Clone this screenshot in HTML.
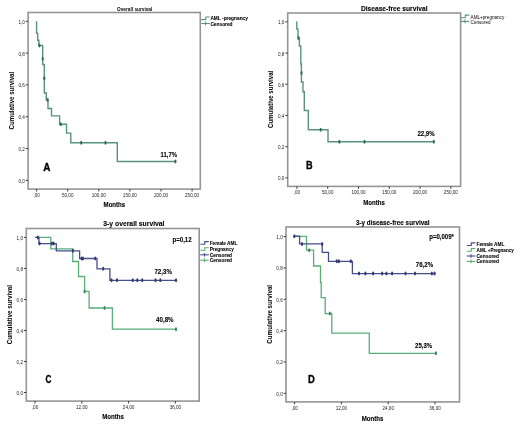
<!DOCTYPE html>
<html><head><meta charset="utf-8"><style>
html,body{margin:0;padding:0;background:#fff;}
body{width:520px;height:426px;overflow:hidden;}
svg{display:block;font-family:"Liberation Sans", sans-serif;will-change:transform;}
</style></head><body>
<svg width="520" height="426" viewBox="0 0 520 426">
<rect width="520" height="426" fill="#fff"/>
<g>
<rect x="28.1" y="12.5" width="172.2" height="176.6" fill="none" stroke="#959595" stroke-width="1.6"/>
<line x1="25.7" y1="21.3" x2="28.1" y2="21.3" stroke="#3a3a3a" stroke-width="1.0"/>
<text x="24.8" y="23.8" font-size="4.60" text-anchor="end" fill="#222" textLength="6.39" lengthAdjust="spacingAndGlyphs" >1,0</text>
<line x1="25.7" y1="53.12" x2="28.1" y2="53.12" stroke="#3a3a3a" stroke-width="1.0"/>
<text x="24.8" y="55.62" font-size="4.60" text-anchor="end" fill="#222" textLength="6.39" lengthAdjust="spacingAndGlyphs" >0,8</text>
<line x1="25.7" y1="84.94" x2="28.1" y2="84.94" stroke="#3a3a3a" stroke-width="1.0"/>
<text x="24.8" y="87.44" font-size="4.60" text-anchor="end" fill="#222" textLength="6.39" lengthAdjust="spacingAndGlyphs" >0,6</text>
<line x1="25.7" y1="116.76" x2="28.1" y2="116.76" stroke="#3a3a3a" stroke-width="1.0"/>
<text x="24.8" y="119.26" font-size="4.60" text-anchor="end" fill="#222" textLength="6.39" lengthAdjust="spacingAndGlyphs" >0,4</text>
<line x1="25.7" y1="148.58" x2="28.1" y2="148.58" stroke="#3a3a3a" stroke-width="1.0"/>
<text x="24.8" y="151.08" font-size="4.60" text-anchor="end" fill="#222" textLength="6.39" lengthAdjust="spacingAndGlyphs" >0,2</text>
<line x1="25.7" y1="180.4" x2="28.1" y2="180.4" stroke="#3a3a3a" stroke-width="1.0"/>
<text x="24.8" y="182.9" font-size="4.60" text-anchor="end" fill="#222" textLength="6.39" lengthAdjust="spacingAndGlyphs" >0,0</text>
<line x1="36.6" y1="189.1" x2="36.6" y2="191.5" stroke="#3a3a3a" stroke-width="1.0"/>
<text x="36.6" y="196.7" font-size="4.60" text-anchor="middle" fill="#222" textLength="6.39" lengthAdjust="spacingAndGlyphs" >,00</text>
<line x1="67.7" y1="189.1" x2="67.7" y2="191.5" stroke="#3a3a3a" stroke-width="1.0"/>
<text x="67.7" y="196.7" font-size="4.60" text-anchor="middle" fill="#222" textLength="11.51" lengthAdjust="spacingAndGlyphs" >50,00</text>
<line x1="98.8" y1="189.1" x2="98.8" y2="191.5" stroke="#3a3a3a" stroke-width="1.0"/>
<text x="98.8" y="196.7" font-size="4.60" text-anchor="middle" fill="#222" textLength="14.07" lengthAdjust="spacingAndGlyphs" >100,00</text>
<line x1="129.9" y1="189.1" x2="129.9" y2="191.5" stroke="#3a3a3a" stroke-width="1.0"/>
<text x="129.9" y="196.7" font-size="4.60" text-anchor="middle" fill="#222" textLength="14.07" lengthAdjust="spacingAndGlyphs" >150,00</text>
<line x1="161.0" y1="189.1" x2="161.0" y2="191.5" stroke="#3a3a3a" stroke-width="1.0"/>
<text x="161.0" y="196.7" font-size="4.60" text-anchor="middle" fill="#222" textLength="14.07" lengthAdjust="spacingAndGlyphs" >200,00</text>
<line x1="192.1" y1="189.1" x2="192.1" y2="191.5" stroke="#3a3a3a" stroke-width="1.0"/>
<text x="192.1" y="196.7" font-size="4.60" text-anchor="middle" fill="#222" textLength="14.07" lengthAdjust="spacingAndGlyphs" >250,00</text>
<text x="117.0" y="10.6" font-size="5.18" font-weight="bold" text-anchor="start" fill="#000" textLength="35.30" lengthAdjust="spacingAndGlyphs" >Overall survival</text>
<text x="114.4" y="207.2" font-size="6.59" font-weight="bold" stroke="#000" stroke-width="0.1" text-anchor="middle" fill="#000" textLength="21.68" lengthAdjust="spacingAndGlyphs" >Months</text>
<text transform="translate(13.7,100.6) rotate(-90)" font-size="6.8" font-weight="bold" text-anchor="middle" textLength="57.6" lengthAdjust="spacingAndGlyphs">Cumulative survival</text>
<text x="43.3" y="170.6" font-size="11.34" font-weight="bold" stroke="#000" stroke-width="0.35" text-anchor="start" fill="#000" textLength="7.20" lengthAdjust="spacingAndGlyphs" >A</text>
<text x="160.6" y="156.6" font-size="6.59" font-weight="bold" stroke="#000" stroke-width="0.1" text-anchor="start" fill="#000" textLength="16.40" lengthAdjust="spacingAndGlyphs" >11,7%</text>
<polyline points="36.6,21.3 36.6,33.3 37.7,33.3 37.7,40.3 38.9,40.3 38.9,45.5 42.7,45.5 42.7,64.5 44.3,64.5 44.3,93 46.3,93 46.3,100 48,100 48,108.5 51.5,108.5 51.5,115.9 59.6,115.9 59.6,124.2 66.5,124.2 66.5,133.1 70.8,133.1 70.8,142.7 117.3,142.7 117.3,161.5 175.4,161.5" fill="none" stroke="#58937f" stroke-width="1.4" stroke-linejoin="miter"/>
<ellipse cx="39.4" cy="45.5" rx="1.1" ry="2.0" fill="#2f6e58"/>
<ellipse cx="42.7" cy="58.7" rx="1.1" ry="2.0" fill="#2f6e58"/>
<ellipse cx="44.3" cy="78.3" rx="1.1" ry="2.0" fill="#2f6e58"/>
<ellipse cx="47.6" cy="100" rx="1.1" ry="2.0" fill="#2f6e58"/>
<ellipse cx="60.8" cy="124.2" rx="1.1" ry="2.0" fill="#2f6e58"/>
<ellipse cx="81.2" cy="142.7" rx="1.1" ry="2.0" fill="#2f6e58"/>
<ellipse cx="105.5" cy="142.7" rx="1.1" ry="2.0" fill="#2f6e58"/>
<ellipse cx="175.4" cy="161.5" rx="1.1" ry="2.0" fill="#2f6e58"/>
<polyline points="201.3,19.6 205.8,19.6 205.8,17.0 209.8,17.0" fill="none" stroke="#58937f" stroke-width="1.1"/>
<line x1="201.3" y1="23.5" x2="209.8" y2="23.5" stroke="#58937f" stroke-width="1.1"/>
<line x1="205.5" y1="21.7" x2="205.5" y2="25.3" stroke="#58937f" stroke-width="1.1"/>
<text x="210.4" y="20.3" font-size="5.18" font-weight="bold" stroke="#000" stroke-width="0.08" text-anchor="start" fill="#000" textLength="37.52" lengthAdjust="spacingAndGlyphs" >AML -pregnancy</text>
<text x="210.4" y="25.8" font-size="5.18" font-weight="bold" stroke="#000" stroke-width="0.08" text-anchor="start" fill="#000" textLength="22.14" lengthAdjust="spacingAndGlyphs" >Censored</text>
<rect x="287.7" y="13.0" width="172.9" height="173.4" fill="none" stroke="#959595" stroke-width="1.6"/>
<line x1="285.3" y1="21.8" x2="287.7" y2="21.8" stroke="#3a3a3a" stroke-width="1.0"/>
<text x="284.4" y="24.3" font-size="4.60" text-anchor="end" fill="#222" textLength="6.39" lengthAdjust="spacingAndGlyphs" >1,0</text>
<line x1="285.3" y1="53.02" x2="287.7" y2="53.02" stroke="#3a3a3a" stroke-width="1.0"/>
<text x="284.4" y="55.52" font-size="4.60" text-anchor="end" fill="#222" textLength="6.39" lengthAdjust="spacingAndGlyphs" >0,8</text>
<line x1="285.3" y1="84.24" x2="287.7" y2="84.24" stroke="#3a3a3a" stroke-width="1.0"/>
<text x="284.4" y="86.74" font-size="4.60" text-anchor="end" fill="#222" textLength="6.39" lengthAdjust="spacingAndGlyphs" >0,6</text>
<line x1="285.3" y1="115.46" x2="287.7" y2="115.46" stroke="#3a3a3a" stroke-width="1.0"/>
<text x="284.4" y="117.96" font-size="4.60" text-anchor="end" fill="#222" textLength="6.39" lengthAdjust="spacingAndGlyphs" >0,4</text>
<line x1="285.3" y1="146.68" x2="287.7" y2="146.68" stroke="#3a3a3a" stroke-width="1.0"/>
<text x="284.4" y="149.18" font-size="4.60" text-anchor="end" fill="#222" textLength="6.39" lengthAdjust="spacingAndGlyphs" >0,2</text>
<line x1="285.3" y1="177.9" x2="287.7" y2="177.9" stroke="#3a3a3a" stroke-width="1.0"/>
<text x="284.4" y="180.4" font-size="4.60" text-anchor="end" fill="#222" textLength="6.39" lengthAdjust="spacingAndGlyphs" >0,0</text>
<line x1="296.9" y1="186.4" x2="296.9" y2="188.8" stroke="#3a3a3a" stroke-width="1.0"/>
<text x="296.9" y="194.0" font-size="4.60" text-anchor="middle" fill="#222" textLength="6.39" lengthAdjust="spacingAndGlyphs" >,00</text>
<line x1="327.7" y1="186.4" x2="327.7" y2="188.8" stroke="#3a3a3a" stroke-width="1.0"/>
<text x="327.7" y="194.0" font-size="4.60" text-anchor="middle" fill="#222" textLength="11.51" lengthAdjust="spacingAndGlyphs" >50,00</text>
<line x1="358.5" y1="186.4" x2="358.5" y2="188.8" stroke="#3a3a3a" stroke-width="1.0"/>
<text x="358.5" y="194.0" font-size="4.60" text-anchor="middle" fill="#222" textLength="14.07" lengthAdjust="spacingAndGlyphs" >100,00</text>
<line x1="389.3" y1="186.4" x2="389.3" y2="188.8" stroke="#3a3a3a" stroke-width="1.0"/>
<text x="389.3" y="194.0" font-size="4.60" text-anchor="middle" fill="#222" textLength="14.07" lengthAdjust="spacingAndGlyphs" >150,00</text>
<line x1="420.1" y1="186.4" x2="420.1" y2="188.8" stroke="#3a3a3a" stroke-width="1.0"/>
<text x="420.1" y="194.0" font-size="4.60" text-anchor="middle" fill="#222" textLength="14.07" lengthAdjust="spacingAndGlyphs" >200,00</text>
<line x1="450.9" y1="186.4" x2="450.9" y2="188.8" stroke="#3a3a3a" stroke-width="1.0"/>
<text x="450.9" y="194.0" font-size="4.60" text-anchor="middle" fill="#222" textLength="14.07" lengthAdjust="spacingAndGlyphs" >250,00</text>
<text x="360.9" y="11.1" font-size="7.24" font-weight="bold" stroke="#000" stroke-width="0.1" text-anchor="start" fill="#000" textLength="66.60" lengthAdjust="spacingAndGlyphs" >Disease-free survival</text>
<text x="374" y="205.0" font-size="6.59" font-weight="bold" stroke="#000" stroke-width="0.1" text-anchor="middle" fill="#000" textLength="21.68" lengthAdjust="spacingAndGlyphs" >Months</text>
<text transform="translate(273.1,99.4) rotate(-90)" font-size="6.6" font-weight="bold" text-anchor="middle" textLength="57.2" lengthAdjust="spacingAndGlyphs">Cumulative survival</text>
<text x="306.0" y="169.0" font-size="11.34" font-weight="bold" stroke="#000" stroke-width="0.35" text-anchor="start" fill="#000" textLength="6.60" lengthAdjust="spacingAndGlyphs" >B</text>
<text x="417.4" y="135.9" font-size="6.80" font-weight="bold" stroke="#000" stroke-width="0.1" text-anchor="start" fill="#000" textLength="17.20" lengthAdjust="spacingAndGlyphs" >22,9%</text>
<polyline points="296.8,21.6 296.8,29.1 298,29.1 298,38 299.4,38 299.4,46 300.8,46 300.8,64 301.4,64 301.4,82 303.0,82 303.0,91.8 304.3,91.8 304.3,110.5 308.3,110.5 308.3,129.8 328,129.8 328,141.8 433.8,141.8" fill="none" stroke="#58937f" stroke-width="1.4" stroke-linejoin="miter"/>
<ellipse cx="298.5" cy="38" rx="1.1" ry="2.0" fill="#2f6e58"/>
<ellipse cx="301.5" cy="72.9" rx="1.1" ry="2.0" fill="#2f6e58"/>
<ellipse cx="320.7" cy="129.8" rx="1.1" ry="2.0" fill="#2f6e58"/>
<ellipse cx="339.4" cy="141.8" rx="1.1" ry="2.0" fill="#2f6e58"/>
<ellipse cx="364.5" cy="141.8" rx="1.1" ry="2.0" fill="#2f6e58"/>
<ellipse cx="433.8" cy="141.8" rx="1.1" ry="2.0" fill="#2f6e58"/>
<polyline points="460.8,17.7 465.3,17.7 465.3,15.1 469.3,15.1" fill="none" stroke="#58937f" stroke-width="1.1"/>
<line x1="460.8" y1="21.4" x2="469.3" y2="21.4" stroke="#58937f" stroke-width="1.1"/>
<line x1="465.0" y1="19.6" x2="465.0" y2="23.2" stroke="#58937f" stroke-width="1.1"/>
<text x="470.6" y="18.7" font-size="5.06" text-anchor="start" fill="#000" textLength="33.63" lengthAdjust="spacingAndGlyphs" >AML+pregnancy</text>
<text x="470.6" y="23.8" font-size="5.06" text-anchor="start" fill="#000" textLength="19.95" lengthAdjust="spacingAndGlyphs" >Censored</text>
<rect x="26.3" y="228.5" width="172.9" height="172.6" fill="none" stroke="#959595" stroke-width="1.6"/>
<line x1="23.9" y1="237.4" x2="26.3" y2="237.4" stroke="#3a3a3a" stroke-width="1.0"/>
<text x="23.0" y="239.9" font-size="4.60" text-anchor="end" fill="#222" textLength="6.39" lengthAdjust="spacingAndGlyphs" >1,0</text>
<line x1="23.9" y1="268.42" x2="26.3" y2="268.42" stroke="#3a3a3a" stroke-width="1.0"/>
<text x="23.0" y="270.92" font-size="4.60" text-anchor="end" fill="#222" textLength="6.39" lengthAdjust="spacingAndGlyphs" >0,8</text>
<line x1="23.9" y1="299.44" x2="26.3" y2="299.44" stroke="#3a3a3a" stroke-width="1.0"/>
<text x="23.0" y="301.94" font-size="4.60" text-anchor="end" fill="#222" textLength="6.39" lengthAdjust="spacingAndGlyphs" >0,6</text>
<line x1="23.9" y1="330.46" x2="26.3" y2="330.46" stroke="#3a3a3a" stroke-width="1.0"/>
<text x="23.0" y="332.96" font-size="4.60" text-anchor="end" fill="#222" textLength="6.39" lengthAdjust="spacingAndGlyphs" >0,4</text>
<line x1="23.9" y1="361.48" x2="26.3" y2="361.48" stroke="#3a3a3a" stroke-width="1.0"/>
<text x="23.0" y="363.98" font-size="4.60" text-anchor="end" fill="#222" textLength="6.39" lengthAdjust="spacingAndGlyphs" >0,2</text>
<line x1="23.9" y1="392.5" x2="26.3" y2="392.5" stroke="#3a3a3a" stroke-width="1.0"/>
<text x="23.0" y="395.0" font-size="4.60" text-anchor="end" fill="#222" textLength="6.39" lengthAdjust="spacingAndGlyphs" >0,0</text>
<line x1="35.0" y1="401.1" x2="35.0" y2="403.5" stroke="#3a3a3a" stroke-width="1.0"/>
<text x="35.0" y="408.7" font-size="4.60" text-anchor="middle" fill="#222" textLength="6.39" lengthAdjust="spacingAndGlyphs" >,00</text>
<line x1="81.8" y1="401.1" x2="81.8" y2="403.5" stroke="#3a3a3a" stroke-width="1.0"/>
<text x="81.8" y="408.7" font-size="4.60" text-anchor="middle" fill="#222" textLength="11.51" lengthAdjust="spacingAndGlyphs" >12,00</text>
<line x1="128.6" y1="401.1" x2="128.6" y2="403.5" stroke="#3a3a3a" stroke-width="1.0"/>
<text x="128.6" y="408.7" font-size="4.60" text-anchor="middle" fill="#222" textLength="11.51" lengthAdjust="spacingAndGlyphs" >24,00</text>
<line x1="175.4" y1="401.1" x2="175.4" y2="403.5" stroke="#3a3a3a" stroke-width="1.0"/>
<text x="175.4" y="408.7" font-size="4.60" text-anchor="middle" fill="#222" textLength="11.51" lengthAdjust="spacingAndGlyphs" >36,00</text>
<text x="103.3" y="225.5" font-size="7.24" font-weight="bold" stroke="#000" stroke-width="0.1" text-anchor="start" fill="#000" textLength="61.20" lengthAdjust="spacingAndGlyphs" >3-y overall survival</text>
<text x="113" y="419" font-size="6.59" font-weight="bold" stroke="#000" stroke-width="0.1" text-anchor="middle" fill="#000" textLength="21.68" lengthAdjust="spacingAndGlyphs" >Months</text>
<text transform="translate(12.1,314.7) rotate(-90)" font-size="6.6" font-weight="bold" text-anchor="middle" textLength="59.3" lengthAdjust="spacingAndGlyphs">Cumulative survival</text>
<text x="45.4" y="383.2" font-size="11.34" font-weight="bold" stroke="#000" stroke-width="0.35" text-anchor="start" fill="#000" textLength="5.90" lengthAdjust="spacingAndGlyphs" >C</text>
<text x="172.6" y="241.6" font-size="6.48" font-weight="bold" stroke="#000" stroke-width="0.1" text-anchor="start" fill="#000" textLength="19.00" lengthAdjust="spacingAndGlyphs" >p=0,12</text>
<text x="154.4" y="273.8" font-size="6.80" font-weight="bold" stroke="#000" stroke-width="0.1" text-anchor="start" fill="#000" textLength="17.60" lengthAdjust="spacingAndGlyphs" >72,3%</text>
<text x="156.1" y="322.2" font-size="6.80" font-weight="bold" stroke="#000" stroke-width="0.1" text-anchor="start" fill="#000" textLength="17.50" lengthAdjust="spacingAndGlyphs" >40,8%</text>
<polyline points="35.2,237.4 50.8,237.4 50.8,248.9 72.7,248.9 72.7,261.5 78.5,261.5 78.5,276.5 84.6,276.5 84.6,291.4 89.1,291.4 89.1,308 112.4,308 112.4,329.2 176,329.2" fill="none" stroke="#5aae78" stroke-width="1.3" stroke-linejoin="miter"/>
<polyline points="35.2,237.4 39,237.4 39,243.6 56.3,243.6 56.3,250.8 79.6,250.8 79.6,258.5 97,258.5 97,268.8 109.9,268.8 109.9,280.3 176,280.3" fill="none" stroke="#464f8e" stroke-width="1.3" stroke-linejoin="miter"/>
<ellipse cx="84.6" cy="291.4" rx="1.1" ry="2.0" fill="#3d8a5c"/>
<ellipse cx="104.6" cy="308" rx="1.1" ry="2.0" fill="#3d8a5c"/>
<ellipse cx="176" cy="329.2" rx="1.1" ry="2.0" fill="#3d8a5c"/>
<ellipse cx="37.8" cy="237.4" rx="1.1" ry="2.0" fill="#333a70"/>
<ellipse cx="39.5" cy="243.6" rx="1.1" ry="2.0" fill="#333a70"/>
<ellipse cx="51.9" cy="243.6" rx="1.1" ry="2.0" fill="#333a70"/>
<ellipse cx="53.6" cy="243.6" rx="1.1" ry="2.0" fill="#333a70"/>
<ellipse cx="72.9" cy="250.8" rx="1.1" ry="2.0" fill="#333a70"/>
<ellipse cx="81.7" cy="258.5" rx="1.1" ry="2.0" fill="#333a70"/>
<ellipse cx="82.9" cy="258.5" rx="1.1" ry="2.0" fill="#333a70"/>
<ellipse cx="95.2" cy="258.5" rx="1.1" ry="2.0" fill="#333a70"/>
<ellipse cx="103.2" cy="268.8" rx="1.1" ry="2.0" fill="#333a70"/>
<ellipse cx="111.5" cy="280.3" rx="1.1" ry="2.0" fill="#333a70"/>
<ellipse cx="117" cy="280.3" rx="1.1" ry="2.0" fill="#333a70"/>
<ellipse cx="132.8" cy="280.3" rx="1.1" ry="2.0" fill="#333a70"/>
<ellipse cx="137.3" cy="280.3" rx="1.1" ry="2.0" fill="#333a70"/>
<ellipse cx="142.2" cy="280.3" rx="1.1" ry="2.0" fill="#333a70"/>
<ellipse cx="155.5" cy="280.3" rx="1.1" ry="2.0" fill="#333a70"/>
<ellipse cx="160.3" cy="280.3" rx="1.1" ry="2.0" fill="#333a70"/>
<ellipse cx="176" cy="280.3" rx="1.1" ry="2.0" fill="#333a70"/>
<polyline points="200.3,244.2 204.8,244.2 204.8,241.6 208.8,241.6" fill="none" stroke="#464f8e" stroke-width="1.1"/>
<polyline points="200.3,250.3 204.8,250.3 204.8,247.7 208.8,247.7" fill="none" stroke="#5aae78" stroke-width="1.1"/>
<line x1="200.3" y1="254.8" x2="208.8" y2="254.8" stroke="#464f8e" stroke-width="1.1"/>
<line x1="204.5" y1="253.0" x2="204.5" y2="256.6" stroke="#464f8e" stroke-width="1.1"/>
<line x1="200.3" y1="260.2" x2="208.8" y2="260.2" stroke="#5aae78" stroke-width="1.1"/>
<line x1="204.5" y1="258.4" x2="204.5" y2="262.0" stroke="#5aae78" stroke-width="1.1"/>
<text x="209.7" y="244.6" font-size="5.08" font-weight="bold" stroke="#000" stroke-width="0.08" text-anchor="start" fill="#000" textLength="27.60" lengthAdjust="spacingAndGlyphs" >Female AML</text>
<text x="209.7" y="250.7" font-size="5.08" font-weight="bold" stroke="#000" stroke-width="0.08" text-anchor="start" fill="#000" textLength="24.10" lengthAdjust="spacingAndGlyphs" >Pregnancy</text>
<text x="209.7" y="256.6" font-size="5.08" font-weight="bold" stroke="#000" stroke-width="0.08" text-anchor="start" fill="#000" textLength="22.40" lengthAdjust="spacingAndGlyphs" >Censored</text>
<text x="209.7" y="262.2" font-size="5.08" font-weight="bold" stroke="#000" stroke-width="0.08" text-anchor="start" fill="#000" textLength="22.40" lengthAdjust="spacingAndGlyphs" >Censored</text>
<rect x="286.0" y="227.0" width="173.5" height="174.9" fill="none" stroke="#959595" stroke-width="1.6"/>
<line x1="283.6" y1="236.6" x2="286.0" y2="236.6" stroke="#3a3a3a" stroke-width="1.0"/>
<text x="282.7" y="239.1" font-size="4.60" text-anchor="end" fill="#222" textLength="6.39" lengthAdjust="spacingAndGlyphs" >1,0</text>
<line x1="283.6" y1="267.94" x2="286.0" y2="267.94" stroke="#3a3a3a" stroke-width="1.0"/>
<text x="282.7" y="270.44" font-size="4.60" text-anchor="end" fill="#222" textLength="6.39" lengthAdjust="spacingAndGlyphs" >0,8</text>
<line x1="283.6" y1="299.28" x2="286.0" y2="299.28" stroke="#3a3a3a" stroke-width="1.0"/>
<text x="282.7" y="301.78" font-size="4.60" text-anchor="end" fill="#222" textLength="6.39" lengthAdjust="spacingAndGlyphs" >0,6</text>
<line x1="283.6" y1="330.62" x2="286.0" y2="330.62" stroke="#3a3a3a" stroke-width="1.0"/>
<text x="282.7" y="333.12" font-size="4.60" text-anchor="end" fill="#222" textLength="6.39" lengthAdjust="spacingAndGlyphs" >0,4</text>
<line x1="283.6" y1="361.96" x2="286.0" y2="361.96" stroke="#3a3a3a" stroke-width="1.0"/>
<text x="282.7" y="364.46" font-size="4.60" text-anchor="end" fill="#222" textLength="6.39" lengthAdjust="spacingAndGlyphs" >0,2</text>
<line x1="283.6" y1="393.3" x2="286.0" y2="393.3" stroke="#3a3a3a" stroke-width="1.0"/>
<text x="282.7" y="395.8" font-size="4.60" text-anchor="end" fill="#222" textLength="6.39" lengthAdjust="spacingAndGlyphs" >0,0</text>
<line x1="294.6" y1="401.9" x2="294.6" y2="404.3" stroke="#3a3a3a" stroke-width="1.0"/>
<text x="294.6" y="409.5" font-size="4.60" text-anchor="middle" fill="#222" textLength="6.39" lengthAdjust="spacingAndGlyphs" >,00</text>
<line x1="341.4" y1="401.9" x2="341.4" y2="404.3" stroke="#3a3a3a" stroke-width="1.0"/>
<text x="341.4" y="409.5" font-size="4.60" text-anchor="middle" fill="#222" textLength="11.51" lengthAdjust="spacingAndGlyphs" >12,00</text>
<line x1="388.2" y1="401.9" x2="388.2" y2="404.3" stroke="#3a3a3a" stroke-width="1.0"/>
<text x="388.2" y="409.5" font-size="4.60" text-anchor="middle" fill="#222" textLength="11.51" lengthAdjust="spacingAndGlyphs" >24,00</text>
<line x1="435.0" y1="401.9" x2="435.0" y2="404.3" stroke="#3a3a3a" stroke-width="1.0"/>
<text x="435.0" y="409.5" font-size="4.60" text-anchor="middle" fill="#222" textLength="11.51" lengthAdjust="spacingAndGlyphs" >36,00</text>
<text x="355.9" y="225.1" font-size="6.91" font-weight="bold" stroke="#000" stroke-width="0.1" text-anchor="start" fill="#000" textLength="73.70" lengthAdjust="spacingAndGlyphs" >3-y disease-free survival</text>
<text x="372.5" y="420.8" font-size="6.59" font-weight="bold" stroke="#000" stroke-width="0.1" text-anchor="middle" fill="#000" textLength="21.68" lengthAdjust="spacingAndGlyphs" >Months</text>
<text transform="translate(271.7,314.3) rotate(-90)" font-size="6.6" font-weight="bold" text-anchor="middle" textLength="58.8" lengthAdjust="spacingAndGlyphs">Cumulative survival</text>
<text x="307.9" y="383" font-size="11.34" font-weight="bold" stroke="#000" stroke-width="0.35" text-anchor="start" fill="#000" textLength="6.80" lengthAdjust="spacingAndGlyphs" >D</text>
<text x="429.2" y="239.3" font-size="6.48" font-weight="bold" stroke="#000" stroke-width="0.1" text-anchor="start" fill="#000" textLength="24.80" lengthAdjust="spacingAndGlyphs" >p=0,009*</text>
<text x="415.8" y="266.9" font-size="6.80" font-weight="bold" stroke="#000" stroke-width="0.1" text-anchor="start" fill="#000" textLength="17.30" lengthAdjust="spacingAndGlyphs" >76,2%</text>
<text x="415.1" y="348.3" font-size="6.80" font-weight="bold" stroke="#000" stroke-width="0.1" text-anchor="start" fill="#000" textLength="17.00" lengthAdjust="spacingAndGlyphs" >25,3%</text>
<polyline points="294.3,236.3 306.5,236.3 306.5,250.2 313.6,250.2 313.6,266 320.5,266 320.5,282.5 321.2,282.5 321.2,297.6 325.2,297.6 325.2,313.6 331.8,313.6 331.8,333.2 369.3,333.2 369.3,353.3 435.9,353.3" fill="none" stroke="#5aae78" stroke-width="1.3" stroke-linejoin="miter"/>
<polyline points="294.3,236.2 299.6,236.2 299.6,243.9 322.2,243.9 322.2,252.3 328.5,252.3 328.5,261.3 352.4,261.3 352.4,273.6 435,273.6" fill="none" stroke="#464f8e" stroke-width="1.3" stroke-linejoin="miter"/>
<ellipse cx="309.2" cy="250.2" rx="1.1" ry="2.0" fill="#3d8a5c"/>
<ellipse cx="329.8" cy="313.6" rx="1.1" ry="2.0" fill="#3d8a5c"/>
<ellipse cx="435.9" cy="353.3" rx="1.1" ry="2.0" fill="#3d8a5c"/>
<ellipse cx="294.3" cy="236.2" rx="1.1" ry="2.0" fill="#333a70"/>
<ellipse cx="302" cy="243.9" rx="1.1" ry="2.0" fill="#333a70"/>
<ellipse cx="322.2" cy="243.9" rx="1.1" ry="2.0" fill="#333a70"/>
<ellipse cx="336.8" cy="261.3" rx="1.1" ry="2.0" fill="#333a70"/>
<ellipse cx="338.9" cy="261.3" rx="1.1" ry="2.0" fill="#333a70"/>
<ellipse cx="350.8" cy="261.3" rx="1.1" ry="2.0" fill="#333a70"/>
<ellipse cx="359" cy="273.6" rx="1.1" ry="2.0" fill="#333a70"/>
<ellipse cx="365.4" cy="273.6" rx="1.1" ry="2.0" fill="#333a70"/>
<ellipse cx="373.1" cy="273.6" rx="1.1" ry="2.0" fill="#333a70"/>
<ellipse cx="382.2" cy="273.6" rx="1.1" ry="2.0" fill="#333a70"/>
<ellipse cx="386.4" cy="273.6" rx="1.1" ry="2.0" fill="#333a70"/>
<ellipse cx="392.1" cy="273.6" rx="1.1" ry="2.0" fill="#333a70"/>
<ellipse cx="405.5" cy="273.6" rx="1.1" ry="2.0" fill="#333a70"/>
<ellipse cx="415" cy="273.6" rx="1.1" ry="2.0" fill="#333a70"/>
<ellipse cx="431.9" cy="273.6" rx="1.1" ry="2.0" fill="#333a70"/>
<ellipse cx="434.6" cy="273.6" rx="1.1" ry="2.0" fill="#333a70"/>
<polyline points="466.8,245.5 471.3,245.5 471.3,242.9 475.3,242.9" fill="none" stroke="#464f8e" stroke-width="1.1"/>
<polyline points="466.8,251.2 471.3,251.2 471.3,248.6 475.3,248.6" fill="none" stroke="#5aae78" stroke-width="1.1"/>
<line x1="466.8" y1="256.0" x2="475.3" y2="256.0" stroke="#464f8e" stroke-width="1.1"/>
<line x1="471.0" y1="254.2" x2="471.0" y2="257.8" stroke="#464f8e" stroke-width="1.1"/>
<line x1="466.8" y1="261.4" x2="475.3" y2="261.4" stroke="#5aae78" stroke-width="1.1"/>
<line x1="471.0" y1="259.6" x2="471.0" y2="263.2" stroke="#5aae78" stroke-width="1.1"/>
<text x="476.6" y="245.9" font-size="5.08" font-weight="bold" stroke="#000" stroke-width="0.08" text-anchor="start" fill="#000" textLength="27.70" lengthAdjust="spacingAndGlyphs" >Female AML</text>
<text x="476.6" y="251.6" font-size="5.08" font-weight="bold" stroke="#000" stroke-width="0.08" text-anchor="start" fill="#000" textLength="37.20" lengthAdjust="spacingAndGlyphs" >AML +Pregnancy</text>
<text x="476.6" y="257.8" font-size="5.08" font-weight="bold" stroke="#000" stroke-width="0.08" text-anchor="start" fill="#000" textLength="22.40" lengthAdjust="spacingAndGlyphs" >Censored</text>
<text x="476.6" y="263.2" font-size="5.08" font-weight="bold" stroke="#000" stroke-width="0.08" text-anchor="start" fill="#000" textLength="22.40" lengthAdjust="spacingAndGlyphs" >Censored</text>
</g>
</svg>
</body></html>
